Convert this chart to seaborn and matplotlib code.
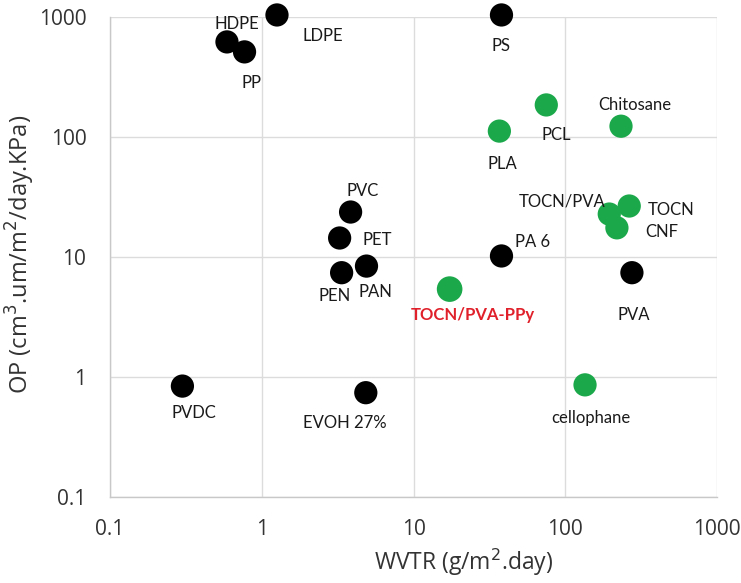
import numpy as np
import pandas as pd
import matplotlib
matplotlib.use("Agg")
import matplotlib.pyplot as plt
import seaborn as sns
from matplotlib.ticker import FixedLocator, LogLocator, NullFormatter

# petroleum based films (black)
oil_names = ["HDPE", "PP", "LDPE", "PS", "PVC", "PET", "PEN", "PAN", "PA 6", "PVA", "PVDC", "EVOH 27%"]
oil_wvtr = [0.59, 0.77, 1.26, 38, 3.85, 3.26, 3.36, 4.9, 38, 275, 0.30, 4.85]
oil_op = [620, 512, 1040, 1040, 23.7, 14.4, 7.4, 8.4, 10.2, 7.4, 0.84, 0.74]

# bio based films (green)
bio_names = ["PLA", "PCL", "Chitosane", "TOCN/PVA", "TOCN", "CNF", "cellophane"]
bio_wvtr = [36.8, 75, 233, 195, 264, 219, 135]
bio_op = [112, 185, 123, 22.8, 26.6, 17.5, 0.86]

# this work
new_name = "TOCN/PVA-PPy"
new_wvtr = [17.3]
new_op = [5.4]

# label offsets in pixels (dx, dy)
offsets = {
    "HDPE": (10, 18), "PP": (7, -31), "LDPE": (46, -21), "PS": (0, -31),
    "PVC": (12, 21), "PET": (38, -2), "PEN": (-7, -23), "PAN": (9, -26),
    "PA 6": (31, 14), "PVA": (2, -42), "PVDC": (11, -27), "EVOH 27%": (-21, -30),
    "PLA": (3, -33), "PCL": (10, -30), "Chitosane": (14, 21), "TOCN/PVA": (-47, 13),
    "TOCN": (42, -4), "CNF": (45, -4), "cellophane": (6, -33), "TOCN/PVA-PPy": (23, -26),
}

green = "#1aa84a"
oil = pd.DataFrame({"name": oil_names, "wvtr": oil_wvtr, "op": oil_op})
bio = pd.DataFrame({"name": bio_names, "wvtr": bio_wvtr, "op": bio_op})
new = pd.DataFrame({"name": [new_name], "wvtr": new_wvtr, "op": new_op})

sns.set_style("white")
plt.rcParams["font.family"] = ["Open Sans", "DejaVu Sans"]

fig = plt.figure(figsize=(7.41, 5.83), dpi=100)
ax = fig.add_axes([110 / 741, 1 - 497 / 583, (717 - 110) / 741, (497 - 17) / 583])
ax.set_xscale("log")
ax.set_yscale("log")

sns.scatterplot(data=oil, x="wvtr", y="op", color="black", s=280, edgecolor="none", ax=ax, zorder=3, clip_on=False)
sns.scatterplot(data=bio, x="wvtr", y="op", color=green, s=280, edgecolor="none", ax=ax, zorder=3, clip_on=False)
sns.scatterplot(data=new, x="wvtr", y="op", color=green, s=340, edgecolor="none", ax=ax, zorder=3, clip_on=False)

lab_font = ["Lato", "DejaVu Sans"]
for df in (oil, bio):
    for _, r in df.iterrows():
        ax.annotate(r["name"], (r["wvtr"], r["op"]), xytext=offsets[r["name"]],
                    textcoords="offset pixels", ha="center", va="center",
                    fontsize=12, color="#1a1a1a", zorder=4, family=lab_font,
                    annotation_clip=False)
ax.annotate(new_name, (new_wvtr[0], new_op[0]), xytext=offsets[new_name],
            textcoords="offset pixels", ha="center", va="center",
            fontsize=12, color="#e0202a", fontweight="bold", zorder=4,
            family=lab_font, annotation_clip=False)

ax.set_xlim(0.1, 1000)
ax.set_ylim(0.1, 1000)
major = [0.1, 1, 10, 100, 1000]
ax.xaxis.set_major_locator(FixedLocator(major))
ax.yaxis.set_major_locator(FixedLocator(major))
ax.set_xticklabels(["0.1", "1", "10", "100", "1000"])
ax.set_yticklabels(["0.1", "1", "10", "100", "1000"])
ax.xaxis.set_minor_locator(LogLocator(base=10, subs=np.arange(2, 10)))
ax.yaxis.set_minor_locator(LogLocator(base=10, subs=np.arange(2, 10)))
ax.xaxis.set_minor_formatter(NullFormatter())
ax.yaxis.set_minor_formatter(NullFormatter())
ax.tick_params(axis="both", which="major", length=0, labelsize=15, colors="#333333")
ax.tick_params(axis="x", which="major", pad=16)
ax.tick_params(axis="y", which="major", pad=17)
ax.tick_params(axis="both", which="minor", length=5, width=1, direction="in", color="#c4c4c4")

ax.grid(True, which="major", color="#dcdcdc", linewidth=1)
for side in ("top", "right"):
    ax.spines[side].set_visible(False)
for side in ("left", "bottom"):
    ax.spines[side].set_color("#c8c8c8")
    ax.spines[side].set_linewidth(1)

ax.set_xlabel("WVTR (g/m$^2$.day)", fontsize=16.5, color="#333333")
ax.set_ylabel("OP (cm$^3$.um/m$^2$/day.KPa)", fontsize=17, color="#333333")
ax.xaxis.set_label_coords(0.583, -0.104)
ax.yaxis.set_label_coords(-0.12, 0.505)

fig.savefig("out.png", dpi=100)
